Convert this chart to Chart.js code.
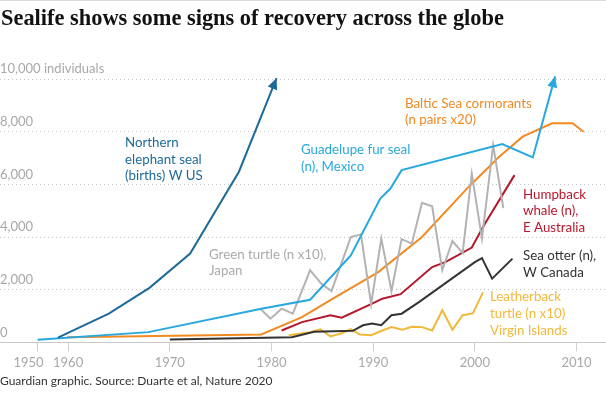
<!DOCTYPE html>
<html lang="en">

<head>
    <meta charset="UTF-8">
    <title>Sealife shows some signs of recovery across the globe</title>
    <script src="https://cdn.jsdelivr.net/npm/chart.js@4"></script>

    <style>
        body {
            margin: 0;
            width: 606px;
            height: 398px;
            overflow: hidden;
            position: relative;
            background: #fff;
            font-family: Lato, sans-serif;
        }

        .rule {
            position: absolute;
            left: 0;
            top: 0;
            width: 606px;
            height: 1px;
            background: #dcdcdc;
        }

        h1 {
            position: absolute;
            left: 1px;
            top: 5px;
            margin: 0;
            font: bold 22.4px/25px 'Liberation Serif', serif;
            color: #121212;
            white-space: nowrap;
        }

        .source {
            position: absolute;
            left: 0;
            top: 374px;
            font-size: 12px;
            line-height: 14px;
            color: #333;
        }

        #chart {
            position: absolute;
            left: 0;
            top: 0;
        }
    </style>
</head>

<body>
    <canvas id="chart" width="606" height="398"></canvas>
    <div class="rule"></div>
    <h1>Sealife shows some signs of recovery across the globe</h1>
    <div class="source">Guardian graphic. Source: Duarte et al, Nature 2020</div>

    <script>
        // axis ticks: the "1950" label sits a little left of its tick mark (at 1957),
        // so it gets its own unmarked tick and the real tick gets no label
        const xTickYears = [1956.1, 1957, 1960, 1970, 1980, 1990, 2000, 2010];
        const xTickLabels = ['1950', '', '1960', '1970', '1980', '1990', '2000', '2010'];
        const yTickValues = [0, 2000, 4000, 6000, 8000, 10000];

        // series
        const elephantYears = [1959, 1964, 1968, 1972, 1976.8, 1980.5];
        const elephantValues = [180, 1090, 2070, 3370, 6480, 10030];

        const guadalupeYears = [1957, 1967.9, 1979, 1983.8, 1987.8, 1990.7, 1991.7, 1992.8, 2002.7, 2005.7, 2007.9];
        const guadalupeValues = [100, 390, 1280, 1620, 3300, 5460, 5840, 6540, 7530, 7020, 10100];

        const cormorantYears = [1959.9, 1967, 1979, 1981.5, 1983, 1986, 1990.5, 1994.8, 1999.5, 2002.4, 2004.7, 2007.6, 2009.6, 2010.7];
        const cormorantValues = [200, 230, 300, 710, 960, 1650, 2670, 4000, 5950, 7050, 7810, 8320, 8320, 8000];

        const greenTurtleYears = [1978.9, 1979.9, 1981, 1982.1, 1983.8, 1984.9, 1985.9, 1987.8, 1988.8, 1989.8, 1990.8, 1991.8, 1992.8, 1993.8, 1994.8, 1995.8, 1996.8, 1997.8, 1998.8, 1999.7, 2000.7, 2001.8, 2002.8];
        const greenTurtleValues = [1280, 900, 1280, 1090, 2740, 2230, 1950, 4000, 4100, 1450, 3940, 1950, 3920, 3750, 5300, 5170, 2740, 3850, 3400, 6400, 3950, 7490, 5100];

        const humpbackYears = [1981, 1983, 1985.8, 1986.9, 1989.9, 1990.9, 1992.7, 1995.8, 1997.1, 1999.7, 2000.9, 2003.9];
        const humpbackValues = [450, 770, 1030, 940, 1470, 1660, 1830, 2860, 3050, 3600, 4450, 6350];

        const seaOtterYears = [1970, 1982, 1984.2, 1988, 1989, 1989.9, 1990.8, 1991.8, 1992.8, 1994.5, 2000, 2000.7, 2001.7, 2003.7];
        const seaOtterValues = [110, 200, 400, 440, 650, 720, 650, 1030, 1090, 1530, 3050, 3200, 2420, 3180];

        const leatherbackYears = [1981.7, 1983.8, 1984.8, 1985.8, 1986.9, 1987.8, 1988.7, 1989.8, 1990.9, 1991.8, 1992.9, 1993.8, 1994.8, 1995.8, 1996.8, 1997.8, 1998.8, 1999.8, 2000.8];
        const leatherbackValues = [270, 390, 500, 230, 350, 500, 300, 270, 450, 580, 480, 590, 580, 450, 1220, 480, 1030, 1100, 1900];

        const toPoints = (xs, ys) => xs.map((x, i) => ({ x: x, y: ys[i] }));

        function series(xs, ys, color, arrow) {
            return {
                data: toPoints(xs, ys),
                borderColor: color,
                borderWidth: 2,
                pointRadius: 0,
                tension: 0,
                fill: false,
                clip: false,
                arrow: !!arrow
            };
        }

        // annotation text, pixel positions (left x, baseline y)
        const notes = [
            { x: 125, y: [147, 163.5, 180], lines: ['Northern', 'elephant seal', '(births) W US'], color: '#1d6a99' },
            { x: 301, y: [154, 170.5], lines: ['Guadelupe fur seal', '(n), Mexico'], color: '#27a8df' },
            { x: 405, y: [107.5, 123.5], lines: ['Baltic Sea cormorants', '(n pairs x20)'], color: '#ef8a26' },
            { x: 209, y: [258.5, 275], lines: ['Green turtle (n x10),', 'Japan'], color: '#aaaaaa' },
            { x: 523, y: [198.5, 215, 231.5], lines: ['Humpback', 'whale (n),', 'E Australia'], color: '#b5172b' },
            { x: 523, y: [260, 276.5], lines: ['Sea otter (n),', 'W Canada'], color: '#333333' },
            { x: 490, y: [301, 318, 335], lines: ['Leatherback', 'turtle (n x10)', 'Virgin Islands'], color: '#f0b93a' }
        ];

        const extras = {
            id: 'extras',
            afterDatasetsDraw(chart) {
                const ctx = chart.ctx;
                ctx.save();
                chart.data.datasets.forEach((ds, i) => {
                    if (!ds.arrow) return;
                    const pts = chart.getDatasetMeta(i).data;
                    const a = pts[pts.length - 2], b = pts[pts.length - 1];
                    const ang = Math.atan2(b.y - a.y, b.x - a.x);
                    const len = 11, half = 5;
                    ctx.fillStyle = ds.borderColor;
                    ctx.beginPath();
                    ctx.moveTo(b.x, b.y);
                    ctx.lineTo(b.x - len * Math.cos(ang) + half * Math.sin(ang), b.y - len * Math.sin(ang) - half * Math.cos(ang));
                    ctx.lineTo(b.x - len * Math.cos(ang) - half * Math.sin(ang), b.y - len * Math.sin(ang) + half * Math.cos(ang));
                    ctx.closePath();
                    ctx.fill();
                });
                ctx.font = '13.3px Lato';
                ctx.textAlign = 'left';
                ctx.textBaseline = 'alphabetic';
                notes.forEach(n => {
                    ctx.fillStyle = n.color;
                    n.lines.forEach((t, k) => ctx.fillText(t, n.x, n.y[k]));
                });
                ctx.restore();
            }
        };

        Chart.defaults.font.family = 'Lato';

        new Chart(document.getElementById('chart'), {
            type: 'line',
            data: {
                datasets: [
                    series(elephantYears, elephantValues, '#1d6a99', true),
                    series(guadalupeYears, guadalupeValues, '#27a8df', true),
                    series(greenTurtleYears, greenTurtleValues, '#b3b3b3'),
                    series(cormorantYears, cormorantValues, '#f28a22'),
                    series(humpbackYears, humpbackValues, '#b5172b'),
                    series(seaOtterYears, seaOtterValues, '#333333'),
                    series(leatherbackYears, leatherbackValues, '#f0b93a')
                ]
            },
            options: {
                responsive: false,
                animation: false,
                layout: { padding: { top: 79, bottom: 23, left: 0, right: 0 } },
                plugins: { legend: { display: false }, tooltip: { enabled: false } },
                scales: {
                    x: {
                        type: 'linear',
                        min: 1953.3,
                        max: 2012.9,
                        afterBuildTicks: axis => { axis.ticks = xTickYears.map(v => ({ value: v })); },
                        ticks: {
                            autoSkip: false,
                            maxRotation: 0,
                            padding: 4,
                            color: '#a8a8a8',
                            font: { size: 13 },
                            callback: (v, i) => xTickLabels[i]
                        },
                        grid: {
                            drawOnChartArea: false,
                            drawTicks: true,
                            tickLength: 9,
                            tickColor: c => xTickLabels[c.index] === '1950' ? 'rgba(0,0,0,0)' : '#d0d0d0'
                        },
                        border: { display: true, color: '#c8c8c8', width: 1 }
                    },
                    y: {
                        min: 0,
                        max: 10000,
                        afterBuildTicks: axis => { axis.ticks = yTickValues.map(v => ({ value: v })); },
                        ticks: {
                            mirror: true,
                            padding: 0,
                            labelOffset: -10,
                            color: '#a8a8a8',
                            font: { size: 13 },
                            callback: v => v === 10000 ? '10,000 individuals' : v.toLocaleString('en-US')
                        },
                        grid: { drawTicks: false, color: '#c4c4c4' },
                        border: { display: false, dash: [1, 3] }
                    }
                }
            },
            plugins: [extras]
        });
    </script>
</body>

</html>
